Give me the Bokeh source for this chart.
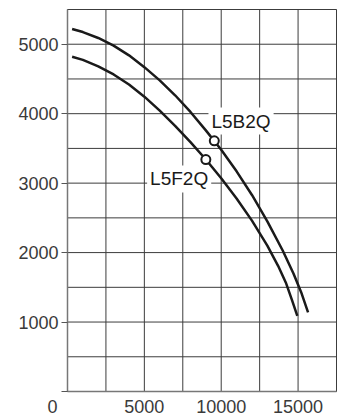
from bokeh.plotting import figure
from bokeh.models import Range1d, SingleIntervalTicker, Label, Span
from bokeh.embed import file_html
from bokeh.resources import INLINE

# Flow (x) and head (y)
upper_q = [300, 1000, 2000, 3000, 4000, 5000, 6000, 7000, 8000, 9000, 10000, 11000, 12000, 13000, 14000, 14700, 15200, 15650]
upper_h = [5220, 5175, 5090, 4980, 4840, 4670, 4480, 4265, 4025, 3760, 3480, 3170, 2830, 2450, 2030, 1700, 1430, 1140]
lower_q = [300, 1000, 2000, 3000, 4000, 5000, 6000, 7000, 8000, 9000, 10000, 11000, 12000, 13000, 13700, 14200, 14600, 14950]
lower_h = [4820, 4775, 4680, 4565, 4420, 4245, 4045, 3825, 3590, 3340, 3070, 2780, 2460, 2100, 1810, 1570, 1320, 1090]

marker_q = [9550, 9000]
marker_h = [3610, 3340]

series_names = ["L5B2Q", "L5F2Q"]
label_q = [9170, 5180]
label_h = [3894, 3061]

x_ticks = [0, 5000, 10000, 15000]
y_ticks = [0, 1000, 2000, 3000, 4000, 5000]
x_max = 17500
y_max = 5500
x_grid_step = 2500
y_grid_step = 500

INK = "#1a1a1a"
GRID = "#3c3c3c"
TXT = "#3a3a3a"
FONT = "Liberation Sans"

p = figure(width=340, height=419, output_backend="svg", toolbar_location=None,
           x_range=Range1d(0, x_max), y_range=Range1d(0, y_max),
           min_border_left=67, min_border_top=9, min_border_right=4, min_border_bottom=26)

p.background_fill_color = "white"
p.border_fill_color = "white"
p.outline_line_color = GRID
p.outline_line_width = 1

p.xaxis.ticker = SingleIntervalTicker(interval=5000, num_minor_ticks=0)
p.yaxis.ticker = SingleIntervalTicker(interval=1000, num_minor_ticks=0)
p.xgrid.grid_line_color = None
p.ygrid.grid_line_color = None

# grid drawn as spans every 2500 (x) and 500 (y)
for gx in range(x_grid_step, x_max + 1, x_grid_step):
    p.add_layout(Span(location=gx, dimension="height", line_color=GRID,
                      line_width=1, level="underlay"))
for gy in range(y_grid_step, y_max + 1, y_grid_step):
    p.add_layout(Span(location=gy, dimension="width", line_color=GRID,
                      line_width=1, level="underlay"))

p.xaxis.major_label_overrides = {0: "0" + "\u00a0" * 6}
p.yaxis.major_label_overrides = {0: ""}

for ax in (p.xaxis, p.yaxis):
    ax.axis_line_color = "#777777"
    ax.axis_line_width = 1.5
    ax.minor_tick_line_color = None
    ax.major_label_text_font = FONT
    ax.major_label_text_font_size = "18px"
    ax.major_label_text_color = TXT

p.xaxis.major_tick_out = 0
p.xaxis.major_tick_in = 0
p.xaxis.major_label_standoff = 5
p.yaxis.major_tick_out = 6
p.yaxis.major_tick_in = 0
p.yaxis.major_tick_line_color = "#555555"
p.yaxis.major_label_standoff = 3

for name, lq, lh in zip(series_names, label_q, label_h):
    p.add_layout(Label(x=lq, y=lh, text=name, text_font=FONT, text_font_size="19px",
                       text_color=INK, text_align="left", text_baseline="alphabetic",
                       background_fill_color="white", background_fill_alpha=1.0,
                       padding=3, level="underlay"))

p.line(upper_q, upper_h, line_color=INK, line_width=2.5)
p.line(lower_q, lower_h, line_color=INK, line_width=2.5)

p.scatter(marker_q, marker_h, marker="circle", size=9, fill_color="white",
          line_color=INK, line_width=2)

open("out.html", "w").write(file_html(p, INLINE))
